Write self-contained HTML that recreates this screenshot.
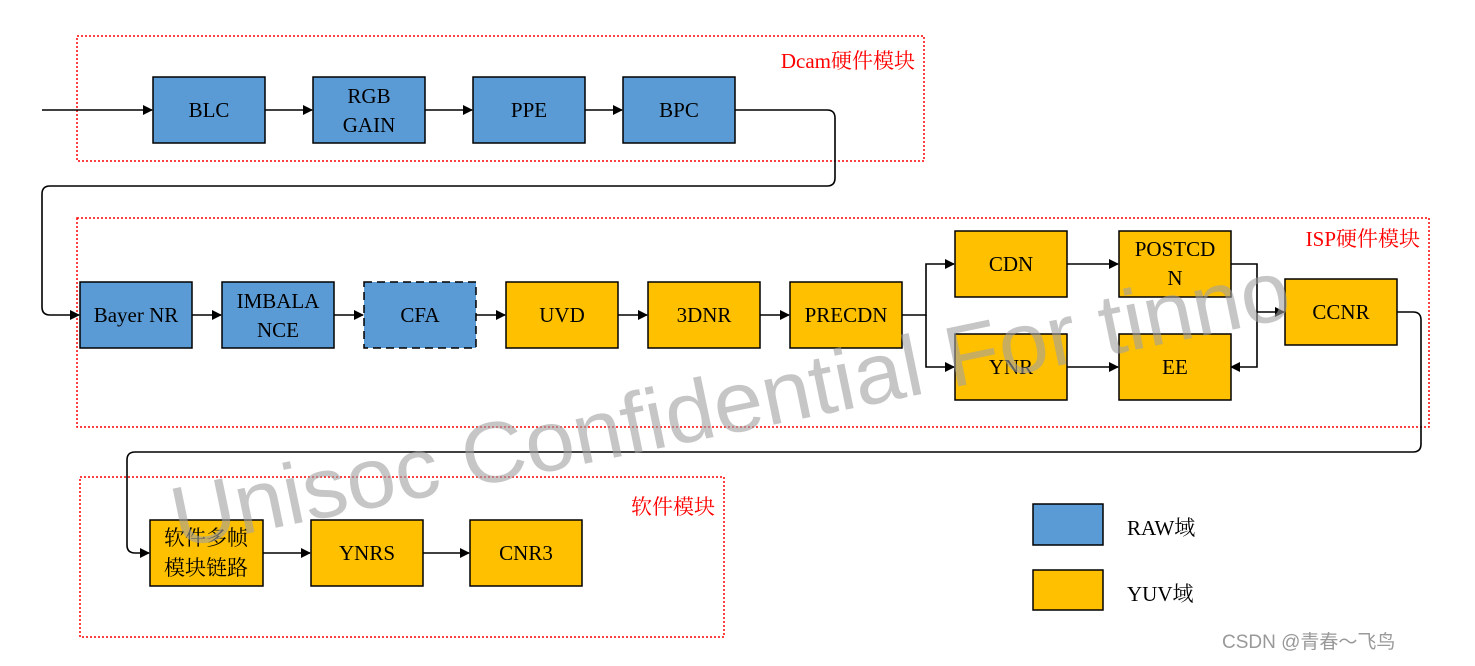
<!DOCTYPE html>
<html><head><meta charset="utf-8"><style>
html,body{margin:0;padding:0;background:#fff;}
svg{display:block;}
text{font-family:"Liberation Serif","Noto Serif CJK SC","Noto Sans CJK SC",serif;}
</style></head><body>
<svg width="1475" height="666" viewBox="0 0 1475 666" xmlns="http://www.w3.org/2000/svg">
<defs>
<marker id="a" markerWidth="10" markerHeight="10" refX="9" refY="5" orient="auto" markerUnits="userSpaceOnUse" viewBox="0 0 10 10">
<path d="M0,0 L10,5 L0,10 z" fill="#000"/></marker>
</defs>
<g fill="none" stroke="#ff0000" stroke-width="1.5" stroke-dasharray="2,2">
<rect x="77" y="36" width="847" height="125"/>
<rect x="77" y="218" width="1352" height="209"/>
<rect x="80" y="477" width="644" height="160"/>
</g>
<g font-size="21" fill="#ff0000">
<text x="915" y="68" text-anchor="end">Dcam硬件模块</text>
<text x="1420" y="246" text-anchor="end">ISP硬件模块</text>
<text x="715" y="514" text-anchor="end">软件模块</text>
</g>
<g stroke="#000" stroke-width="1.6" fill="none" marker-end="url(#a)">
<path d="M42,110 H152"/>
<path d="M265,110 H312"/>
<path d="M425,110 H472"/>
<path d="M585,110 H622"/>
<path d="M735,110 H827 Q835,110 835,118 V178 Q835,186 827,186 H50 Q42,186 42,194 V307 Q42,315 50,315 H79"/>
<path d="M192,315 H221"/>
<path d="M334,315 H363"/>
<path d="M476,315 H505"/>
<path d="M618,315 H647"/>
<path d="M760,315 H789"/>
<path d="M902,315 H926 V264 H954"/>
<path d="M926,315 V367 H954"/>
<path d="M1067,264 H1118"/>
<path d="M1067,367 H1118"/>
<path d="M1231,264 H1257 V367 H1231"/>
<path d="M1257,312 H1284"/>
<path d="M1397,312 H1413 Q1421,312 1421,320 V444 Q1421,452 1413,452 H135 Q127,452 127,460 V545 Q127,553 135,553 H149"/>
<path d="M263,553 H310"/>
<path d="M423,553 H469"/>
</g>
<g stroke="#000" stroke-width="1.5" fill="#5b9bd5">
<rect x="153" y="77" width="112" height="66"/>
<rect x="313" y="77" width="112" height="66"/>
<rect x="473" y="77" width="112" height="66"/>
<rect x="623" y="77" width="112" height="66"/>
<rect x="80" y="282" width="112" height="66"/>
<rect x="222" y="282" width="112" height="66"/>
<rect x="364" y="282" width="112" height="66" stroke-dasharray="8,5"/>
<rect x="1033" y="504" width="70" height="41"/>
</g>
<g stroke="#000" stroke-width="1.5" fill="#ffc000">
<rect x="506" y="282" width="112" height="66"/>
<rect x="648" y="282" width="112" height="66"/>
<rect x="790" y="282" width="112" height="66"/>
<rect x="955" y="231" width="112" height="66"/>
<rect x="1119" y="231" width="112" height="66"/>
<rect x="955" y="334" width="112" height="66"/>
<rect x="1119" y="334" width="112" height="66"/>
<rect x="1285" y="279" width="112" height="66"/>
<rect x="150" y="520" width="113" height="66"/>
<rect x="311" y="520" width="112" height="66"/>
<rect x="470" y="520" width="112" height="66"/>
<rect x="1033" y="570" width="70" height="40"/>
</g>
<g font-size="21" fill="#000" text-anchor="middle">
<text x="209" y="117">BLC</text>
<text x="369" y="103">RGB</text>
<text x="369" y="132">GAIN</text>
<text x="529" y="117">PPE</text>
<text x="679" y="117">BPC</text>
<text x="136" y="322">Bayer NR</text>
<text x="278" y="308">IMBALA</text>
<text x="278" y="337">NCE</text>
<text x="420" y="322">CFA</text>
<text x="562" y="322">UVD</text>
<text x="704" y="322">3DNR</text>
<text x="846" y="322">PRECDN</text>
<text x="1011" y="271">CDN</text>
<text x="1175" y="256">POSTCD</text>
<text x="1175" y="285">N</text>
<text x="1011" y="374">YNR</text>
<text x="1175" y="374">EE</text>
<text x="1341" y="319">CCNR</text>
<text x="206" y="545">软件多帧</text>
<text x="206" y="575">模块链路</text>
<text x="367" y="560">YNRS</text>
<text x="526" y="560">CNR3</text>
</g>
<g font-size="21" fill="#000">
<text x="1127" y="535">RAW域</text>
<text x="1127" y="601">YUV域</text>
</g>
<text x="178" y="548" transform="rotate(-11.7 178 548)" font-family="Liberation Sans, sans-serif" font-size="86" fill="#a0a0a0" fill-opacity="0.6" style="font-family:'Liberation Sans',sans-serif" textLength="1140" lengthAdjust="spacingAndGlyphs">Unisoc Confidential For tinno</text>
<text x="1222" y="648" font-size="19" fill="#999" style="font-family:'Liberation Sans','Noto Sans CJK SC',sans-serif">CSDN @青春～飞鸟</text>
</svg>
</body></html>
